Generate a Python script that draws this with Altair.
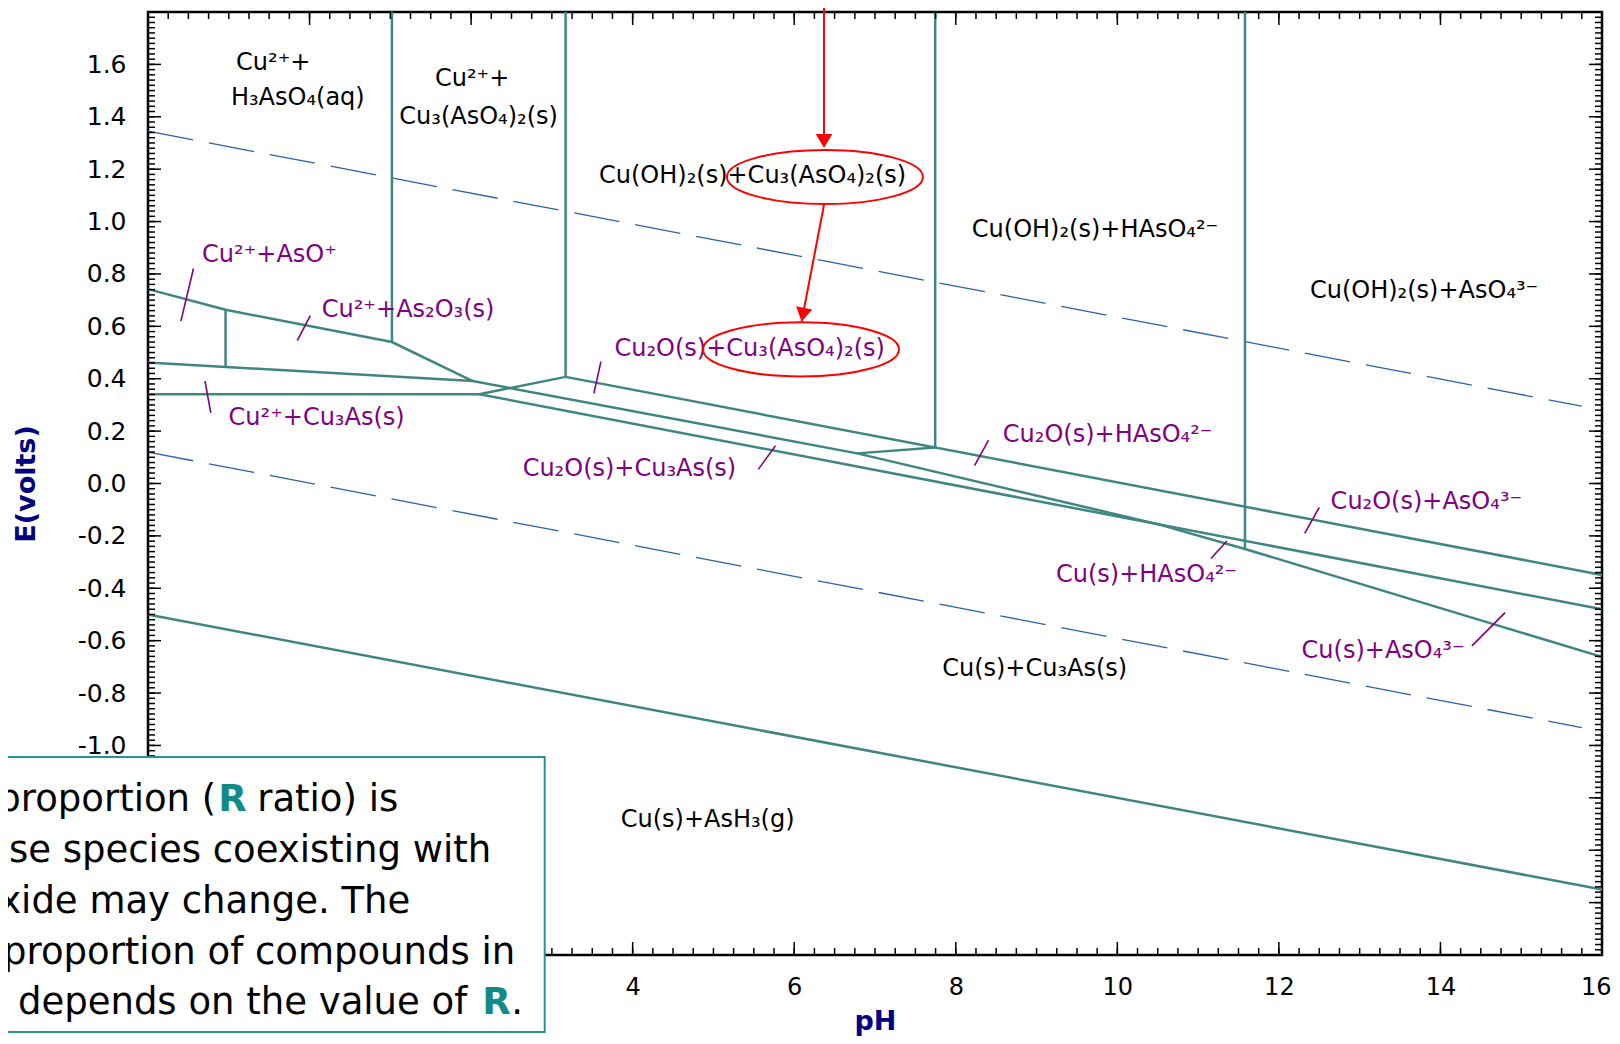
import altair as alt
import numpy as np
import pandas as pd

W, H = 1454, 943
FONT = "DejaVu Sans"
TEAL = "#3f8682"
PURPLE = "#800080"
RED = "#ff0000"
WATER = "#2a62ab"
NAVY = "#000080"
BOXTEAL = "#2a9494"

# ---------------- data (pH, E in volts) ----------------
line_A_pH = [-2.0, -1.04, 1.02, 2.02]
line_A_E = [0.742, 0.663, 0.540, 0.391]
line_L2_pH = [-2.0, 2.02, 6.78, 10.5, 11.58, 16.0]
line_L2_E = [0.462, 0.391, 0.115, -0.155, -0.250, -0.662]
line_L3_pH = [-2.0, 2.10, 16.0]
line_L3_E = [0.341, 0.341, -0.480]
line_rise_pH = [2.10, 3.17]
line_rise_E = [0.341, 0.407]
line_L1_pH = [3.17, 16.0]
line_L1_E = [0.407, -0.349]
line_link_pH = [6.78, 7.745]
line_link_E = [0.115, 0.137]
line_AsH3_pH = [-2.0, 16.0]
line_AsH3_E = [-0.50, -1.55]
vert_pH = [-1.04, 1.02, 3.17, 7.745, 11.58]
vert_E_low = [0.447, 0.540, 0.407, 0.137, -0.250]
vert_E_high = [0.663, 1.8, 1.8, 1.8, 1.8]

water_O2_pH = [-2.0, 15.75]
water_O2_E = [1.345, 0.295]
water_H2_pH = [-2.0, 15.75]
water_H2_E = [0.120, -0.932]

black_labels = ["Cu²⁺+", "H₃AsO₄(aq)", "Cu²⁺+", "Cu₃(AsO₄)₂(s)",
                "Cu(OH)₂(s)+Cu₃(AsO₄)₂(s)", "Cu(OH)₂(s)+HAsO₄²⁻",
                "Cu(OH)₂(s)+AsO₄³⁻", "Cu(s)+Cu₃As(s)", "Cu(s)+AsH₃(g)"]
black_pH = [-0.449, -0.145, 2.013, 2.093, 5.485, 9.724, 13.798, 8.977, 4.928]
black_E = [1.579, 1.445, 1.519, 1.373, 1.146, 0.940, 0.707, -0.735, -1.313]

purple_labels = ["Cu²⁺+AsO⁺", "Cu²⁺+As₂O₃(s)", "Cu²⁺+Cu₃As(s)",
                 "Cu₂O(s)+Cu₃(AsO₄)₂(s)", "Cu₂O(s)+Cu₃As(s)", "Cu₂O(s)+HAsO₄²⁻",
                 "Cu(s)+HAsO₄²⁻", "Cu₂O(s)+AsO₄³⁻", "Cu(s)+AsO₄³⁻"]
purple_pH = [-0.496, 1.220, 0.087, 5.449, 3.960, 9.880, 10.361, 13.826, 13.290]
purple_E = [0.847, 0.635, 0.223, 0.487, 0.030, 0.157, -0.375, -0.099, -0.667]

leader_pH0 = [-1.437, 0.009, -1.294, 3.607, 5.768, 8.406, 11.355, 12.50, 14.80]
leader_E0 = [0.821, 0.641, 0.391, 0.465, 0.144, 0.166, -0.2195, -0.091, -0.493]
leader_pH1 = [-1.593, -0.152, -1.223, 3.52, 5.555, 8.232, 11.16, 12.32, 14.39]
leader_E1 = [0.620, 0.545, 0.270, 0.344, 0.054, 0.068, -0.286, -0.190, -0.620]

arrow_pH0 = [6.369, 6.371]
arrow_E0 = [1.87, 1.067]
arrow_pH1 = [6.369, 6.091]
arrow_E1 = [1.30, 0.618]
head_pH = [6.369, 6.091]
head_E = [1.281, 0.618]
head_angle = [0.0, 10.9]
ellipse_pH = [6.38, 6.084]
ellipse_E = [1.170, 0.512]

box_pH = [-4.0]
box_pH2 = [2.911]
box_E = [-1.0443]
box_E2 = [-2.094]
box_text = ["proportion (", "ratio) is", "ose species coexisting with",
            "xide may change. The", "proportion of compounds in", "depends on the value of"]
box_text_pH = [-1.155, 1.098, 2.249, 1.247, 2.546, 1.952]
box_text_E = [-1.2505, -1.2505, -1.4453, -1.640, -1.833, -2.026]
box_R_pH = [-1.130, 2.138]
box_R_E = [-1.2505, -2.026]
box_dot_pH = [2.497]
box_dot_E = [-2.026]

# tick labels that remain visible (the rest lie under the text box)
x_label_vals = [4, 6, 8, 10, 12, 14, 16]
y_label_vals = [-1.0, -0.8, -0.6, -0.4, -0.2, 0.0, 0.2, 0.4, 0.6, 0.8, 1.0, 1.2, 1.4, 1.6]
maj_pH = [-2, 0, 2, 4, 6, 8, 10, 12, 14, 16]
min_pH = [round(v, 2) for v in np.arange(-2, 16.001, 0.25)]
maj_E = [round(v, 2) for v in np.arange(-1.8, 1.8001, 0.2)]
min_E = [round(v, 2) for v in np.arange(-1.8, 1.8001, 0.02)]

# ---------------- tables ----------------
rows = []
polys = {"A": (line_A_pH, line_A_E), "L2": (line_L2_pH, line_L2_E),
         "L3": (line_L3_pH, line_L3_E), "rise": (line_rise_pH, line_rise_E),
         "L1": (line_L1_pH, line_L1_E), "link": (line_link_pH, line_link_E),
         "AsH3": (line_AsH3_pH, line_AsH3_E)}
for k, (ps, es) in polys.items():
    for i, (p, e) in enumerate(zip(ps, es)):
        rows.append({"seg": k, "i": i, "pH": p, "E": e})
for j, (p, lo, hi) in enumerate(zip(vert_pH, vert_E_low, vert_E_high)):
    rows.append({"seg": f"v{j}", "i": 0, "pH": p, "E": lo})
    rows.append({"seg": f"v{j}", "i": 1, "pH": p, "E": hi})
bound_df = pd.DataFrame(rows)

wrows = []
for k, (ps, es) in {"O2": (water_O2_pH, water_O2_E), "H2": (water_H2_pH, water_H2_E)}.items():
    for i, (p, e) in enumerate(zip(ps, es)):
        wrows.append({"seg": k, "i": i, "pH": p, "E": e})
water_df = pd.DataFrame(wrows)

black_df = pd.DataFrame({"t": black_labels, "pH": black_pH, "E": black_E})
purple_df = pd.DataFrame({"t": purple_labels, "pH": purple_pH, "E": purple_E})
leader_df = pd.DataFrame({"pH": leader_pH0, "E": leader_E0, "pH2": leader_pH1, "E2": leader_E1})
arrow_df = pd.DataFrame({"pH": arrow_pH0, "E": arrow_E0, "pH2": arrow_pH1, "E2": arrow_E1})
head_df = pd.DataFrame({"pH": head_pH, "E": head_E, "ang": head_angle})
ell_df = pd.DataFrame({"pH": ellipse_pH, "E": ellipse_E})
box_df = pd.DataFrame({"pH": box_pH, "pH2": box_pH2, "E": box_E, "E2": box_E2})
boxtxt_df = pd.DataFrame({"t": box_text, "pH": box_text_pH, "E": box_text_E})
boxR_df = pd.DataFrame({"t": ["R", "R"], "pH": box_R_pH, "E": box_R_E})
boxdot_df = pd.DataFrame({"t": ["."], "pH": box_dot_pH, "E": box_dot_E})

# ---------------- scales / axes ----------------
xs = alt.Scale(domain=[-2, 16], nice=False, zero=False)
ys = alt.Scale(domain=[-1.8, 1.8], nice=False, zero=False)
x_axis = alt.Axis(values=x_label_vals, format="d", ticks=False, tickSize=0, domain=False,
                  grid=False, labelFont=FONT, labelFontSize=24, labelColor="black",
                  labelPadding=20, labelFlush=True, labelFlushOffset=9, labelOverlap=False,
                  title="pH", titleFont=FONT, titleFontSize=27, titleFontWeight="bold",
                  titleColor=NAVY, titleX=W / 2, titleY=74, titleAlign="center",
                  titleBaseline="alphabetic")
y_axis = alt.Axis(values=y_label_vals,
                  labelExpr="replace(format(datum.value, '.1f'), '\u2212', '-')",
                  ticks=False, tickSize=0, domain=False, grid=False, labelFont=FONT,
                  labelFontSize=25, labelColor="black", labelPadding=22,
                  labelFlush=False, labelOverlap=False,
                  title="E(volts)", titleFont=FONT, titleFontSize=27, titleFontWeight="bold",
                  titleColor=NAVY, titleX=-122, titleY=H / 2, titleAngle=270,
                  titleAlign="center", titleBaseline="middle")


def X(f="pH"):
    return alt.X(f"{f}:Q", scale=xs, axis=x_axis, title="pH")


def Y(f="E"):
    return alt.Y(f"{f}:Q", scale=ys, axis=y_axis, title="E(volts)")


layers = []

# water stability lines
layers.append(alt.Chart(water_df).mark_line(color=WATER, strokeWidth=1.3, strokeDash=[46, 16])
              .encode(x=X(), y=Y(), detail="seg:N", order="i:Q"))
# boundaries
layers.append(alt.Chart(bound_df).mark_line(color=TEAL, strokeWidth=2.5)
              .encode(x=X(), y=Y(), detail="seg:N", order="i:Q"))
# leaders
layers.append(alt.Chart(leader_df).mark_rule(color=PURPLE, strokeWidth=1.6)
              .encode(x=X(), y=Y(), x2="pH2:Q", y2="E2:Q"))
# labels
layers.append(alt.Chart(black_df).mark_text(font=FONT, fontSize=24, color="black",
                                            align="center", baseline="alphabetic")
              .encode(x=X(), y=Y(), text="t:N"))
layers.append(alt.Chart(purple_df).mark_text(font=FONT, fontSize=24, color=PURPLE,
                                             align="center", baseline="alphabetic")
              .encode(x=X(), y=Y(), text="t:N"))
# red arrows and ellipses
ELLIPSE = ("M -1 0 C -1 -0.1524 -0.5523 -0.276 0 -0.276 C 0.5523 -0.276 1 -0.1524 1 0 "
           "C 1 0.1524 0.5523 0.276 0 0.276 C -0.5523 0.276 -1 0.1524 -1 0 Z")
HEAD = "M -1 -1.7 L 1 -1.7 L 0 0 Z"
layers.append(alt.Chart(arrow_df).mark_rule(color=RED, strokeWidth=2)
              .encode(x=X(), y=Y(), x2="pH2:Q", y2="E2:Q"))
layers.append(alt.Chart(ell_df).mark_point(shape=ELLIPSE, size=196 * 196, filled=False,
                                           stroke=RED, strokeWidth=2, opacity=1)
              .encode(x=X(), y=Y()))
layers.append(alt.Chart(head_df).mark_point(shape=HEAD, size=272, filled=True, fill=RED,
                                            strokeWidth=0, opacity=1)
              .encode(x=X(), y=Y(), angle=alt.Angle("ang:Q", scale=None)))


# inward frame ticks
def ticks_x(vals, y0, y1):
    return (alt.Chart(pd.DataFrame({"pH": vals})).mark_rule(color="black", strokeWidth=1.5)
            .encode(x=X(), y=alt.value(y0), y2=alt.value(y1)))


def ticks_y(vals, x0, x1):
    return (alt.Chart(pd.DataFrame({"E": vals})).mark_rule(color="black", strokeWidth=1.5)
            .encode(y=Y(), x=alt.value(x0), x2=alt.value(x1)))


layers += [ticks_x(min_pH, 0, 7), ticks_x(maj_pH, 0, 13),
           ticks_x(min_pH, H, H - 7), ticks_x(maj_pH, H, H - 13),
           ticks_y(min_E, 0, 7), ticks_y(maj_E, 0, 13),
           ticks_y(min_E, W, W - 7), ticks_y(maj_E, W, W - 13)]

# text box
layers.append(alt.Chart(box_df).mark_rect(fill="white", stroke=BOXTEAL, strokeWidth=2)
              .encode(x=X(), x2="pH2:Q", y=Y(), y2="E2:Q"))
layers.append(alt.Chart(boxtxt_df).mark_text(font=FONT, fontSize=37, color="black",
                                             align="right", baseline="alphabetic")
              .encode(x=X(), y=Y(), text="t:N"))
layers.append(alt.Chart(boxR_df).mark_text(font=FONT, fontSize=37, color="#138a8a",
                                           fontWeight="bold", align="left",
                                           baseline="alphabetic")
              .encode(x=X(), y=Y(), text="t:N"))
layers.append(alt.Chart(boxdot_df).mark_text(font=FONT, fontSize=37, color="black",
                                             align="left", baseline="alphabetic")
              .encode(x=X(), y=Y(), text="t:N"))

chart = (alt.layer(*layers)
         .properties(width=W, height=H,
                     padding={"left": 140, "top": 4, "right": 10, "bottom": 81},
                     autosize=alt.AutoSizeParams(type="none"),
                     background="white")
         .configure(font=FONT)
         .configure_view(stroke="black", strokeWidth=2.5))

chart.save("out.html", embed_options={"renderer": "svg", "actions": False})
